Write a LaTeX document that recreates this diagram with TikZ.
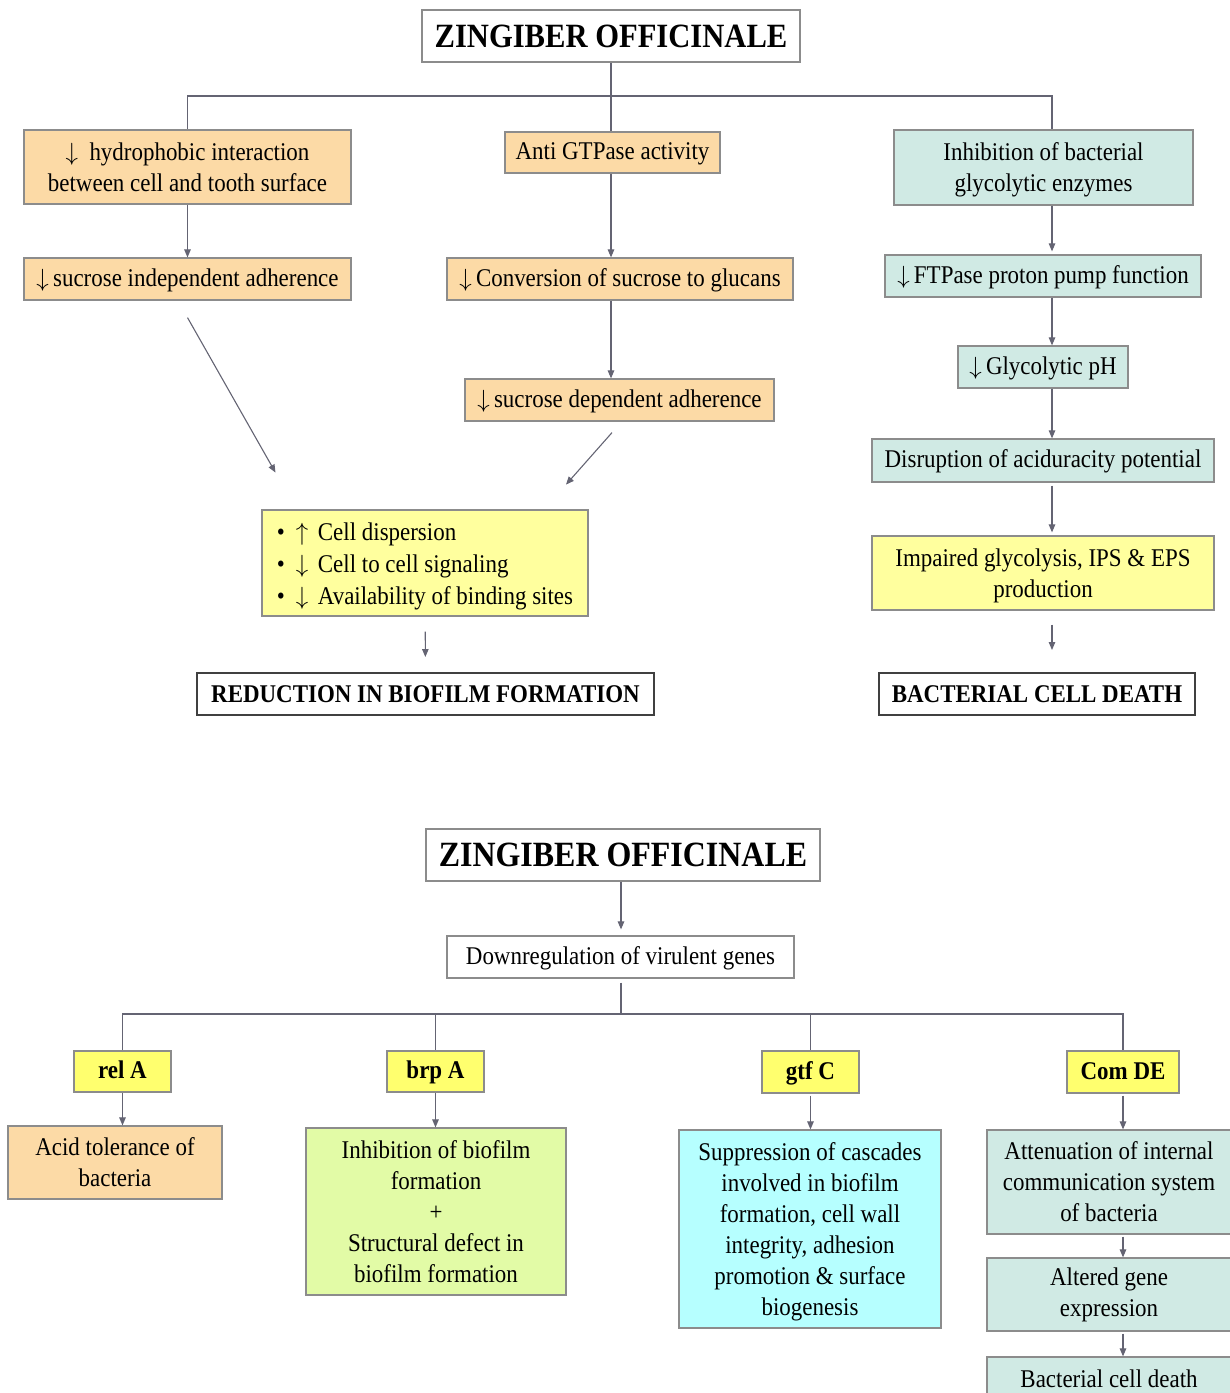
\documentclass[tikz,border=0pt]{standalone}
\usepackage{fontspec}
\setmainfont{Liberation Serif}[FakeStretch=0.9]
\usepackage{tikz}
\usetikzlibrary{positioning,arrows.meta}
\definecolor{peach}{RGB}{252,218,166}
\definecolor{mint}{RGB}{208,234,228}
\definecolor{lemon}{RGB}{255,255,158}
\definecolor{genecol}{RGB}{255,255,110}
\definecolor{lime}{RGB}{226,251,166}
\definecolor{aqua}{RGB}{182,255,255}
\definecolor{edgegray}{RGB}{140,140,140}
\definecolor{wiregray}{RGB}{100,100,115}
\newcommand{\bodysize}{\fontsize{25.5}{31}\selectfont}
\newcommand{\dn}{$\downarrow$}
\newcommand{\up}{$\uparrow$}
\tikzset{%
  block/.style  = {draw=edgegray, line width=1.2pt, rectangle, align=center,
    inner sep=0pt, font=\bodysize},
  oneline/.style = {text height=20pt, text depth=6pt},
  title/.style  = {block, text height=28pt, text depth=6pt, font=\fontsize{34}{40}\selectfont\bfseries}, % header
  result/.style = {block, text height=22pt, text depth=5pt, draw=black!75, line width=2pt, font=\bodysize\bfseries},
  gene/.style   = {block, oneline, fill=genecol, font=\bodysize\bfseries},
  wire/.style   = {draw=wiregray, line width=1.1pt},
  arrow/.style  = {wire, -{Triangle[length=8pt,width=6.5pt]}}
}

\begin{document}
\begin{tikzpicture}[x=1pt, y=-1pt]
	\useasboundingbox (0,0) rectangle (1230,1393);

	% first chart
	\node at (611,36) [title, minimum width=378pt, minimum height=52pt] (title1) {ZINGIBER OFFICINALE};

	\node at (187.5,167) [block, fill=peach, minimum width=327pt, minimum height=74pt] (hydro)
		{\dn\ \ hydrophobic interaction\\between cell and tooth surface};
	\node [block, oneline, fill=peach, below of=hydro, node distance=112pt, minimum width=327pt, minimum height=42pt] (sind)
		{\dn\,sucrose independent adherence};

	\node at (612.5,152.5) [block, oneline, fill=peach, minimum width=215pt, minimum height=41pt] (gtp) {Anti GTPase activity};
	\node at (620,279) [block, oneline, fill=peach, minimum width=346pt, minimum height=42pt] (conv) {\dn\,Conversion of sucrose to glucans};
	\node at (619.5,400) [block, oneline, fill=peach, minimum width=309pt, minimum height=42pt] (sdep) {\dn\,sucrose dependent adherence};

	\node at (425,563) [block, fill=lemon, minimum width=326pt, minimum height=106pt, align=left,
		font=\fontsize{25.5}{32}\selectfont] (bullets)
		{\rule{0pt}{25pt}\makebox[19pt][l]{•}\makebox[22pt][l]{\up}Cell dispersion\\
		 \makebox[19pt][l]{•}\makebox[22pt][l]{\dn}Cell to cell signaling\\
		 \makebox[19pt][l]{•}\makebox[22pt][l]{\dn}Availability of binding sites};
	\node at (425.5,694) [result, minimum width=457pt, minimum height=42pt] (reduction) {REDUCTION IN BIOFILM FORMATION};

	\node at (1043.5,167.5) [block, fill=mint, minimum width=299pt, minimum height=75pt] (inhib)
		{\rule{0pt}{22pt}Inhibition of bacterial\\glycolytic enzymes};
	\node at (1043,276) [block, oneline, fill=mint, minimum width=316pt, minimum height=42pt] (ftp) {\dn\,FTPase proton pump function};
	\node [block, oneline, fill=mint, below of=ftp, node distance=91pt, minimum width=170pt, minimum height=42pt] (gph) {\dn\,Glycolytic pH};
	\node [block, oneline, fill=mint, below of=gph, node distance=93.5pt, minimum width=342pt, minimum height=43pt] (disr)
		{Disruption of aciduracity potential};
	\node [block, fill=lemon, below of=disr, node distance=112.5pt, minimum width=342pt, minimum height=74pt] (impa)
		{\rule{0pt}{24pt}Impaired glycolysis, IPS \& EPS\\production};
	\node at (1037,694) [result, minimum width=316pt, minimum height=42pt] (bcd) {BACTERIAL CELL DEATH};

	\coordinate (split1) at (611,96);
	\coordinate (rcol) at (1052,0);

	\draw[wire] (title1.south -| split1) -- (split1) -- (split1 |- gtp.north);
	\draw[wire] (split1) -| (hydro.north);
	\draw[wire] (split1) -| (inhib.north -| rcol);

	\draw[arrow] (hydro) -- (sind);
	\draw[arrow] ([yshift=-17pt]sind.south) -- ++(88,155) coordinate (inL);
	\draw[arrow] (split1 |- gtp.south) -- (split1 |- conv.north);
	\draw[arrow] (split1 |- conv.south) -- (split1 |- sdep.north);
	\draw[arrow] ([xshift=-7.5pt,yshift=-11pt]sdep.south) -- ++(-46,52) coordinate (inR);
	\draw[arrow, shorten <=15pt, shorten >=15pt] (bullets) -- (reduction);

	\draw[arrow, shorten >=3pt] (inhib.south -| rcol) -- (ftp.north -| rcol);
	\draw[arrow] (ftp.south -| rcol) -- (gph.north -| rcol);
	\draw[arrow] (gph.south -| rcol) -- (disr.north -| rcol);
	\draw[arrow, shorten <=3pt, shorten >=3pt] (disr.south -| rcol) -- (impa.north -| rcol);
	\draw[arrow, shorten <=14pt, shorten >=22pt] (impa.south -| rcol) -- (bcd.north -| rcol);

	% second chart
	\node at (623,855) [title, font=\fontsize{35.5}{42}\selectfont\bfseries, minimum width=394pt, minimum height=52pt] (title2)
		{ZINGIBER OFFICINALE};
	\node at (620.5,957) [block, oneline, minimum width=347pt, minimum height=42pt] (down) {Downregulation of virulent genes};

	\node at (122.5,1071.5) [gene, minimum width=97pt, minimum height=41pt] (rela) {rel A};
	\node at (435.5,1071.5) [gene, minimum width=97pt, minimum height=41pt] (brpa) {brp A};
	\node at (810.5,1072) [gene, minimum width=97pt, minimum height=42pt] (gtfc) {gtf C};
	\node at (1123,1072) [gene, minimum width=112pt, minimum height=42pt] (comde) {Com DE};

	\node at (115,1162.5) [block, fill=peach, minimum width=214pt, minimum height=73pt] (acid) {Acid tolerance of\\bacteria};
	\node at (436,1211.5) [block, fill=lime, minimum width=260pt, minimum height=167pt] (inbio)
		{Inhibition of biofilm\\formation\\+\\Structural defect in\\biofilm formation};
	\node at (810,1229) [block, fill=aqua, minimum width=262pt, minimum height=198pt] (supp)
		{\rule{0pt}{24pt}Suppression of cascades\\involved in biofilm\\formation, cell wall\\integrity, adhesion\\promotion \& surface\\biogenesis};
	\node at (1109,1182) [block, fill=mint, minimum width=244pt, minimum height=104pt] (atten)
		{Attenuation of internal\\communication system\\of bacteria};
	\node [block, fill=mint, below of=atten, node distance=112.5pt, minimum width=244pt, minimum height=73pt] (alter)
		{Altered gene\\expression};
	\node [block, oneline, fill=mint, below of=alter, node distance=85.5pt, minimum width=244pt, minimum height=46pt] (bcd2)
		{Bacterial cell death};

	\coordinate (split2) at (621,1014);

	\draw[arrow] (title2.south -| split2) -- ([yshift=6pt]down.north -| split2);
	\draw[wire] ([yshift=-4pt]down.south -| split2) -- (split2);
	\draw[wire] (split2) -| (rela.north);
	\draw[wire] (split2) -| (brpa.north);
	\draw[wire] (split2) -| (gtfc.north);
	\draw[wire] (split2) -| (comde.north);

	\draw[arrow] (rela.south) -- (rela.south |- acid.north);
	\draw[arrow] (brpa.south) -- (brpa.south |- inbio.north);
	\draw[arrow, shorten <=2pt] (gtfc.south) -- (gtfc.south |- supp.north);
	\draw[arrow, shorten <=2pt] (comde.south) -- (comde.south |- atten.north);
	\draw[arrow, shorten <=2pt] (atten.south -| comde) -- (alter.north -| comde);
	\draw[arrow, shorten <=2pt] (alter.south -| comde) -- (bcd2.north -| comde);

\end{tikzpicture}
\end{document}
